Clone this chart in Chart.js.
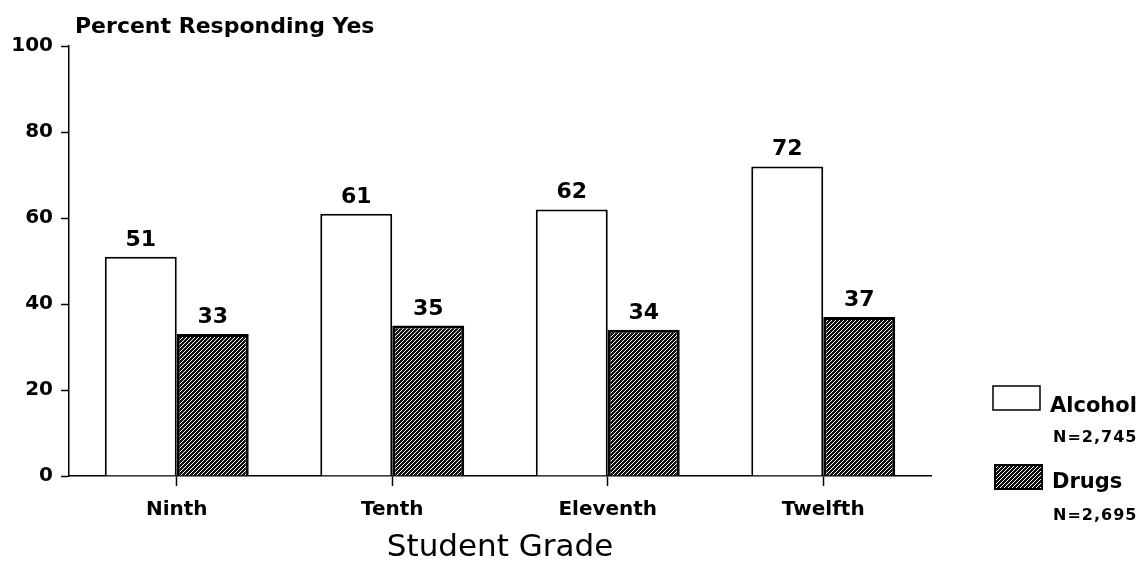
<!DOCTYPE html>
<html>
<head>
<meta charset="utf-8">
<script src="https://cdn.jsdelivr.net/npm/chart.js@4.4.0/dist/chart.umd.min.js"></script>
<style>
  html, body { margin: 0; padding: 0; background: #fff; }
  #wrap { width: 1141px; height: 563px; position: relative; }
</style>
</head>
<body>
<div id="wrap"><canvas id="gradeChart"></canvas></div>
<script>
// STUDENT GRADE - BAR

const grades = ["Ninth", "Tenth", "Eleventh", "Twelfth"];
const alcoholPct = [51, 61, 62, 72];
const drugsPct = [33, 35, 34, 37];
const seriesNames = ["Alcohol", "Drugs"];
const sampleSizes = ["N=2,745", "N=2,695"];

Chart.defaults.font.family = "'DejaVu Sans', sans-serif";
Chart.defaults.color = "#000";

// diagonal hatch for the drugs bars
function makeHatch() {
    const c = document.createElement("canvas");
    c.width = 4;
    c.height = 4;
    const g = c.getContext("2d");
    g.fillStyle = "#111";
    g.fillRect(0, 0, 4, 4);
    g.strokeStyle = "#fff";
    g.lineWidth = 1;
    g.beginPath();
    g.moveTo(0, 4); g.lineTo(4, 0);
    g.moveTo(-1, 1); g.lineTo(1, -1);
    g.moveTo(3, 5); g.lineTo(5, 3);
    g.stroke();
    return g.createPattern(c, "repeat");
}
const hatch = makeHatch();

const gradeDiv = document.getElementById("gradeChart");

const gradeData = {
    labels: grades,
    datasets: [
        {
            label: seriesNames[0],
            data: alcoholPct,
            backgroundColor: "#fff",
            borderColor: "#000",
            borderWidth: 2,
            categoryPercentage: 0.668,
            barPercentage: 1.0
        },
        {
            label: seriesNames[1],
            data: drugsPct,
            backgroundColor: hatch,
            borderColor: "#000",
            borderWidth: 3,
            categoryPercentage: 0.668,
            barPercentage: 1.0
        }
    ]
};

// numbers over the bars, y-axis heading, legend on the right
const extras = {
    id: "extras",
    afterDatasetsDraw(chart) {
        const ctx = chart.ctx;
        ctx.save();
        ctx.fillStyle = "#000";
        ctx.font = "bold 22px 'DejaVu Sans'";
        ctx.textAlign = "center";
        ctx.textBaseline = "alphabetic";
        chart.data.datasets.forEach((ds, i) => {
            chart.getDatasetMeta(i).data.forEach((bar, j) => {
                ctx.fillText(ds.data[j], bar.x, bar.y - 11);
            });
        });

        ctx.textAlign = "left";
        ctx.font = "bold 22px 'DejaVu Sans'";
        ctx.fillText("Percent Responding Yes", 75, 33);

        // legend
        const boxes = [
            { x: 993, y: 386, text: 412, n: 442 },
            { x: 995, y: 465, text: 488, n: 520 }
        ];
        chart.data.datasets.forEach((ds, i) => {
            const b = boxes[i];
            ctx.fillStyle = ds.backgroundColor;
            ctx.fillRect(b.x, b.y, 47, 24);
            ctx.strokeStyle = "#000";
            ctx.lineWidth = i === 0 ? 1.5 : 2;
            ctx.strokeRect(b.x, b.y, 47, 24);
            ctx.fillStyle = "#000";
            ctx.font = "bold 21px 'DejaVu Sans'";
            ctx.letterSpacing = "0px";
            ctx.fillText(ds.label, b.x + 57, b.text);
            ctx.font = "bold 16px 'DejaVu Sans'";
            ctx.letterSpacing = "1px";
            ctx.fillText(sampleSizes[i], 1053, b.n);
        });
        ctx.restore();
    }
};

const gradeChart = new Chart(gradeDiv, {
    type: "bar",
    data: gradeData,
    plugins: [extras],
    options: {
        responsive: true,
        maintainAspectRatio: false,
        animation: false,
        layout: { padding: { top: 46, right: 210, bottom: 0, left: 0 } },
        plugins: {
            legend: { display: false },
            tooltip: { enabled: false }
        },
        scales: {
            x: {
                offset: true,
                grid: {
                    offset: false,
                    drawOnChartArea: false,
                    tickLength: 10,
                    tickColor: "#000",
                    tickWidth: 1.5
                },
                border: { color: "#000", width: 1.5 },
                ticks: { font: { size: 20, weight: "bold" }, padding: 12, color: "#000" },
                title: {
                    display: true,
                    text: "Student Grade",
                    font: { size: 31, lineHeight: 1 },
                    padding: 0,
                    color: "#000"
                },
                afterFit(scale) { scale.height = 87; }
            },
            y: {
                min: 0,
                max: 100,
                ticks: { stepSize: 20, font: { size: 20, weight: "bold" }, padding: 8, color: "#000" },
                grid: {
                    drawOnChartArea: false,
                    tickLength: 8,
                    tickColor: "#000",
                    tickWidth: 1.5
                },
                border: { color: "#000", width: 1.5 },
                afterFit(scale) { scale.width = 69; }
            }
        }
    }
});
</script>
</body>
</html>
